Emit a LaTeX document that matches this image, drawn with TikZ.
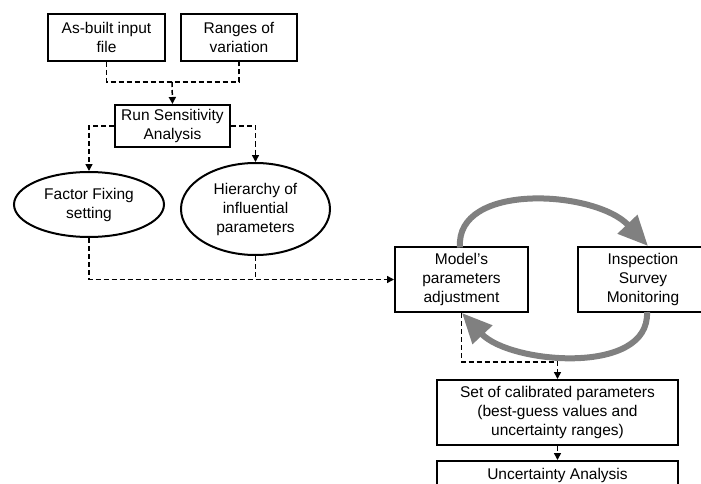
\documentclass[tikz,border=0pt]{standalone}
\usepackage{fontspec}
\setmainfont{Liberation Sans}
\usetikzlibrary{arrows.meta,shapes.geometric}
\tikzset{
  box/.style={draw=black,line width=2pt,fill=white,inner sep=0pt,align=center,
    font=\fontsize{15.5}{19}\selectfont},
  oval/.style={ellipse,draw=black,line width=2pt,fill=white,inner sep=0pt,align=center,
    font=\fontsize{15.5}{19}\selectfont},
  dline/.style={draw=black,line width=1.5pt,dash pattern=on 5pt off 3pt},
  darrow/.style={dline,-{Triangle[length=7pt,width=7pt]}},
  garrow/.style={draw={rgb,255:red,128;green,128;blue,128},line width=6pt,
    -{Triangle[length=30pt,width=26pt,fill={rgb,255:red,128;green,128;blue,128}]}},
}
\begin{document}
\begin{tikzpicture}[x=1pt,y=-1pt]
\useasboundingbox (0,0) rectangle (701,484);
\clip (0,0) rectangle (701,484);
\fill[white] (0,0) rectangle (701,484);

\node[box,minimum width=117pt,minimum height=47pt] (b1) at (106.5,37.5) {As-built input\\file};
\node[box,minimum width=116pt,minimum height=47pt] (b2) at (239,37.5) {Ranges of\\variation};
\node[box,minimum width=115pt,minimum height=42pt] (b3) at (172.5,126) {Run Sensitivity\\Analysis};
\node[oval,minimum width=150pt,minimum height=65pt] (e1) at (89,204.5) {Factor Fixing\\setting};
\node[oval,minimum width=149pt,minimum height=92pt] (e2) at (255.5,209) {Hierarchy of\\influential\\parameters};
\node[box,minimum width=133pt,minimum height=65pt] (b4) at (461.5,279.5) {Model’s\\parameters\\adjustment};
\node[box,minimum width=130pt,minimum height=65pt] (b5) at (643,279.5) {Inspection\\Survey\\Monitoring};
\node[box,minimum width=241pt,minimum height=65pt] (b6) at (557.5,412.5) {Set of calibrated parameters\\(best-guess values and\\uncertainty ranges)};
\node[box,minimum width=241pt,minimum height=29pt] (b7) at (557.5,475.5) {Uncertainty Analysis};

\coordinate (j1) at (172,82);
\coordinate (j2) at (557.5,362);

% top dashed connectors
\draw[dline] (b1.south) |- (j1) -| (b2.south);
\draw[darrow] (j1) -- (b3.north);
\draw[darrow] (b3.west) -| (e1.north);
\draw[darrow] (b3.east) -| (e2.north);
\draw[darrow] (e1.south) |- (b4.west);
\draw[dline] (e2.south) -- (e2.south |- b4.west);

% bottom connectors
\draw[darrow] (b4.south) |- (j2) -| (b6.north);
\draw[darrow] (b6.south) -- (b7.north);

% gray loop arrows
\coordinate (t1) at (460,247.5);
\coordinate (t2) at (648,246);
\coordinate (u1) at (647,312);
\coordinate (u2) at (462,313);
\draw[garrow] (t1) .. controls (455,182) and (595,190) .. (t2);
\draw[garrow] (u1) .. controls (650,376) and (510,364) .. (u2);
\end{tikzpicture}
\end{document}
